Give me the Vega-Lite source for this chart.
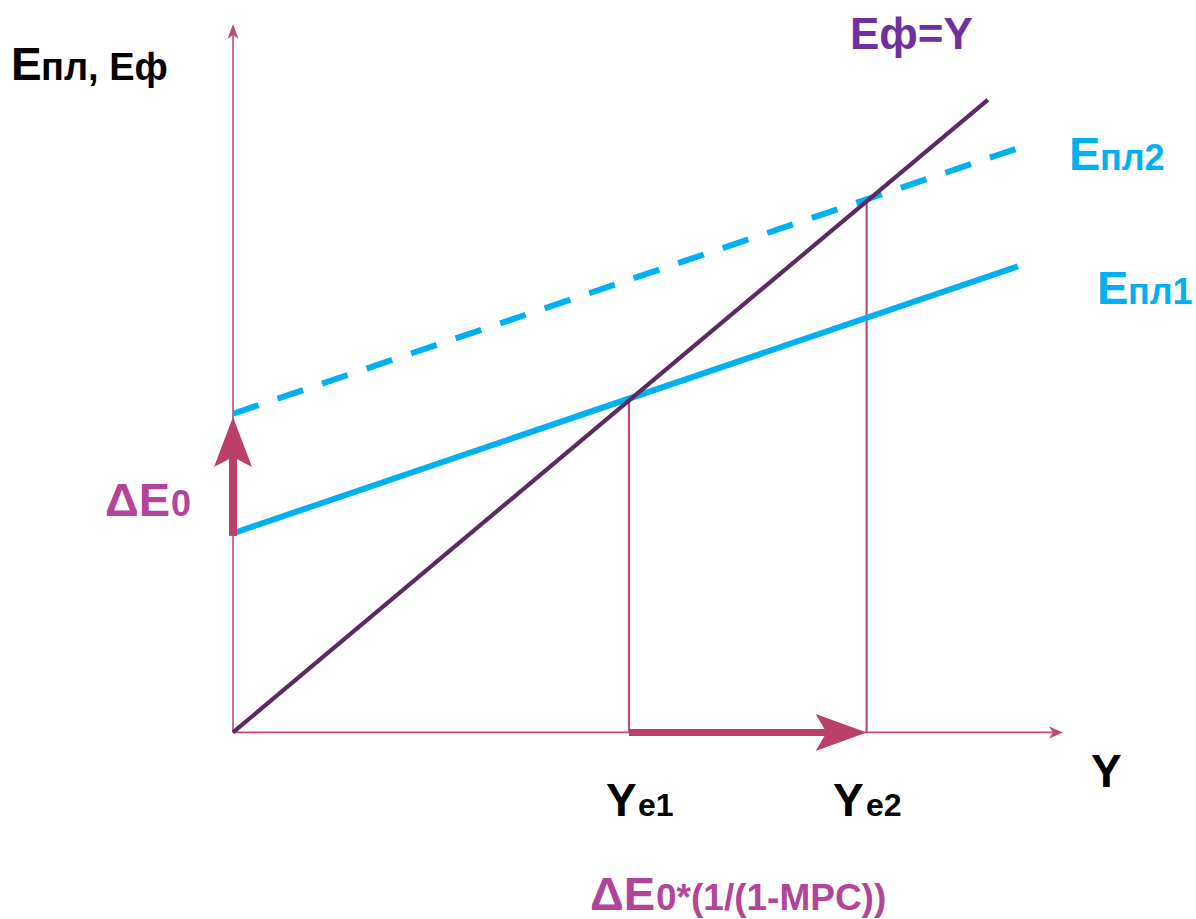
{
  "$schema": "https://vega.github.io/schema/vega-lite/v6.json",
  "width": 1196,
  "height": 919,
  "padding": 0,
  "autosize": {"type": "fit", "contains": "padding"},
  "background": "white",
  "config": {"view": {"stroke": null}},
  "datasets": {
    "segs": [
      {"seg": "axisY", "x": 0, "y": 0, "x2": 0, "y2": 106},
      {"seg": "axisX", "x": 0, "y": 0, "x2": 104, "y2": 0},
      {"seg": "drop", "x": 50, "y": 0, "x2": 50, "y2": 50},
      {"seg": "drop", "x": 80, "y": 0, "x2": 80, "y2": 80},
      {"seg": "actual", "x": 0, "y": 0, "x2": 95.3, "y2": 95.3},
      {"seg": "planned1", "x": 0, "y": 30, "x2": 99.1, "y2": 70.2},
      {"seg": "planned2", "x": 0, "y": 48, "x2": 99.1, "y2": 88.0},
      {"seg": "shiftUp", "x": 0, "y": 29.6, "x2": 0, "y2": 41.8},
      {"seg": "shiftRight", "x": 50, "y": 0, "x2": 75.5, "y2": 0}
    ],
    "heads": [
      {"head": "axisY", "x": 0, "y": 106.7},
      {"head": "axisX", "x": 104.8, "y": 0},
      {"head": "shiftUp", "x": 0, "y": 47.5},
      {"head": "shiftRight", "x": 80, "y": 0}
    ],
    "labels": [
      {"group": "axis", "part": "main", "label": "E", "x": -28.03, "y": 98.3},
      {"group": "axis", "part": "title", "label": "пл, Eф", "x": -24.24, "y": 98.3},
      {"group": "axis", "part": "main", "label": "Y", "x": 47.1, "y": -12.63},
      {"group": "axis", "part": "sub", "label": "e1", "x": 51.14, "y": -12.63},
      {"group": "axis", "part": "main", "label": "Y", "x": 75.76, "y": -12.63},
      {"group": "axis", "part": "sub", "label": "e2", "x": 79.92, "y": -12.63},
      {"group": "axis", "part": "main", "label": "Y", "x": 108.33, "y": -8.27},
      {"group": "actual", "part": "main", "label": "Eф=Y", "x": 77.9, "y": 102.96},
      {"group": "planned", "part": "main", "label": "E", "x": 105.56, "y": 84.77},
      {"group": "planned", "part": "sub", "label": "пл2", "x": 109.47, "y": 84.77},
      {"group": "planned", "part": "main", "label": "E", "x": 109.09, "y": 64.48},
      {"group": "planned", "part": "sub", "label": "пл1", "x": 113.0, "y": 64.48},
      {"group": "shift", "part": "main", "label": "ΔE", "x": -16.16, "y": 32.62},
      {"group": "shift", "part": "sub", "label": "0", "x": -7.83, "y": 32.62},
      {"group": "shift", "part": "main", "label": "ΔE", "x": 45.08, "y": -26.75},
      {"group": "shift", "part": "sub2", "label": "0*(1/(1-MPC))", "x": 53.41, "y": -26.75}
    ]
  },
  "encoding": {
    "x": {"field": "x", "type": "quantitative", "scale": {"domain": [-29.42, 121.59], "nice": false, "zero": false}, "axis": null},
    "y": {"field": "y", "type": "quantitative", "scale": {"domain": [-27.81, 110.33], "nice": false, "zero": false}, "axis": null}
  },
  "layer": [
    {
      "data": {"name": "segs"},
      "transform": [{"filter": "datum.seg === 'axisY' || datum.seg === 'axisX'"}],
      "mark": {"type": "rule", "color": "#c04a76", "strokeWidth": 1.6},
      "encoding": {"x2": {"field": "x2"}, "y2": {"field": "y2"}}
    },
    {
      "data": {"name": "segs"},
      "transform": [{"filter": "datum.seg === 'drop'"}],
      "mark": {"type": "rule", "color": "#c04a76", "strokeWidth": 2.2},
      "encoding": {"x2": {"field": "x2"}, "y2": {"field": "y2"}}
    },
    {
      "data": {"name": "segs"},
      "transform": [{"filter": "datum.seg === 'planned1'"}],
      "mark": {"type": "rule", "color": "#00b0f0", "strokeWidth": 6, "strokeCap": "butt"},
      "encoding": {"x2": {"field": "x2"}, "y2": {"field": "y2"}}
    },
    {
      "data": {"name": "segs"},
      "transform": [{"filter": "datum.seg === 'planned2'"}],
      "mark": {"type": "rule", "color": "#00b0f0", "strokeWidth": 6, "strokeCap": "butt", "strokeDash": [27, 20]},
      "encoding": {"x2": {"field": "x2"}, "y2": {"field": "y2"}}
    },
    {
      "data": {"name": "segs"},
      "transform": [{"filter": "datum.seg === 'actual'"}],
      "mark": {"type": "rule", "color": "#5b2a62", "strokeWidth": 4.2},
      "encoding": {"x2": {"field": "x2"}, "y2": {"field": "y2"}}
    },
    {
      "data": {"name": "segs"},
      "transform": [{"filter": "datum.seg === 'shiftUp'"}],
      "mark": {"type": "rule", "color": "#bb3f6a", "strokeWidth": 8},
      "encoding": {"x2": {"field": "x2"}, "y2": {"field": "y2"}}
    },
    {
      "data": {"name": "segs"},
      "transform": [{"filter": "datum.seg === 'shiftRight'"}],
      "mark": {"type": "rule", "color": "#bb3f6a", "strokeWidth": 7},
      "encoding": {"x2": {"field": "x2"}, "y2": {"field": "y2"}}
    },
    {
      "data": {"name": "heads"},
      "transform": [{"filter": "datum.head === 'axisY'"}],
      "mark": {"type": "point", "shape": "M0,0 L0.55,1.5 L0,1.1 L-0.55,1.5 Z", "size": 400, "filled": true, "opacity": 1, "color": "#c04a76", "strokeWidth": 0}
    },
    {
      "data": {"name": "heads"},
      "transform": [{"filter": "datum.head === 'axisX'"}],
      "mark": {"type": "point", "shape": "M0,0 L-1.4,-0.6 L-1.0,0 L-1.4,0.6 Z", "size": 400, "filled": true, "opacity": 1, "color": "#c04a76", "strokeWidth": 0}
    },
    {
      "data": {"name": "heads"},
      "transform": [{"filter": "datum.head === 'shiftUp'"}],
      "mark": {"type": "point", "shape": "M0,0 L0.38,1 L0,0.8 L-0.38,1 Z", "size": 10000, "filled": true, "opacity": 1, "color": "#bb3f6a", "strokeWidth": 0}
    },
    {
      "data": {"name": "heads"},
      "transform": [{"filter": "datum.head === 'shiftRight'"}],
      "mark": {"type": "point", "shape": "M0,0 L-1.02,-0.37 L-0.8,0 L-1.02,0.37 Z", "size": 10000, "filled": true, "opacity": 1, "color": "#bb3f6a", "strokeWidth": 0}
    },
    {
      "data": {"name": "labels"},
      "transform": [{"filter": "datum.group === 'axis' && datum.part === 'main'"}],
      "mark": {"type": "text", "font": "Liberation Sans", "fontWeight": "bold", "fontSize": 46, "align": "left", "baseline": "alphabetic", "color": "#000000"},
      "encoding": {"text": {"field": "label"}}
    },
    {
      "data": {"name": "labels"},
      "transform": [{"filter": "datum.group === 'axis' && datum.part === 'title'"}],
      "mark": {"type": "text", "font": "Liberation Sans", "fontWeight": "bold", "fontSize": 38, "align": "left", "baseline": "alphabetic", "color": "#000000"},
      "encoding": {"text": {"field": "label"}}
    },
    {
      "data": {"name": "labels"},
      "transform": [{"filter": "datum.group === 'axis' && datum.part === 'sub'"}],
      "mark": {"type": "text", "font": "Liberation Sans", "fontWeight": "bold", "fontSize": 32, "align": "left", "baseline": "alphabetic", "color": "#000000"},
      "encoding": {"text": {"field": "label"}}
    },
    {
      "data": {"name": "labels"},
      "transform": [{"filter": "datum.group === 'actual'"}],
      "mark": {"type": "text", "font": "Liberation Sans", "fontWeight": "bold", "fontSize": 44, "align": "left", "baseline": "alphabetic", "color": "#7030a0"},
      "encoding": {"text": {"field": "label"}}
    },
    {
      "data": {"name": "labels"},
      "transform": [{"filter": "datum.group === 'planned' && datum.part === 'main'"}],
      "mark": {"type": "text", "font": "Liberation Sans", "fontWeight": "bold", "fontSize": 47, "align": "left", "baseline": "alphabetic", "color": "#00b0f0"},
      "encoding": {"text": {"field": "label"}}
    },
    {
      "data": {"name": "labels"},
      "transform": [{"filter": "datum.group === 'planned' && datum.part === 'sub'"}],
      "mark": {"type": "text", "font": "Liberation Sans", "fontWeight": "bold", "fontSize": 36, "align": "left", "baseline": "alphabetic", "color": "#00b0f0"},
      "encoding": {"text": {"field": "label"}}
    },
    {
      "data": {"name": "labels"},
      "transform": [{"filter": "datum.group === 'shift' && datum.part === 'main'"}],
      "mark": {"type": "text", "font": "Liberation Sans", "fontWeight": "bold", "fontSize": 47, "align": "left", "baseline": "alphabetic", "color": "#b2449a"},
      "encoding": {"text": {"field": "label"}}
    },
    {
      "data": {"name": "labels"},
      "transform": [{"filter": "datum.group === 'shift' && datum.part === 'sub'"}],
      "mark": {"type": "text", "font": "Liberation Sans", "fontWeight": "bold", "fontSize": 36, "align": "left", "baseline": "alphabetic", "color": "#b2449a"},
      "encoding": {"text": {"field": "label"}}
    },
    {
      "data": {"name": "labels"},
      "transform": [{"filter": "datum.group === 'shift' && datum.part === 'sub2'"}],
      "mark": {"type": "text", "font": "Liberation Sans", "fontWeight": "bold", "fontSize": 37, "align": "left", "baseline": "alphabetic", "color": "#b2449a"},
      "encoding": {"text": {"field": "label"}}
    }
  ]
}
